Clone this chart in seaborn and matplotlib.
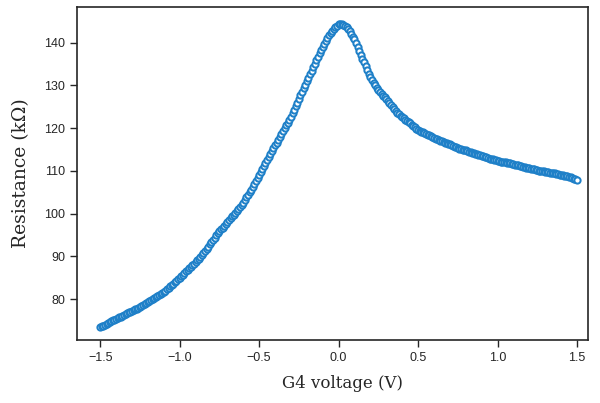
import numpy as np
import pandas as pd
import matplotlib
matplotlib.use("Agg")
import matplotlib.pyplot as plt
import seaborn as sns

# gate sweep, -1.5 V .. 1.5 V in 10 mV steps
voltage = np.round(np.arange(-1.5, 1.5001, 0.01), 2)

# resistance in kOhm
resistance = [
    73.4, 73.6, 73.8, 74.0, 74.2, 74.4, 74.6, 74.8, 75.0, 75.2,
    75.4, 75.55, 75.7, 75.9, 76.1, 76.3, 76.5, 76.7, 76.9, 77.05,
    77.2, 77.4, 77.6, 77.8, 78.0, 78.2, 78.4, 78.6, 78.8, 79.05,
    79.3, 79.5, 79.7, 79.95, 80.2, 80.45, 80.7, 80.9, 81.1, 81.35,
    81.6, 81.95, 82.3, 82.65, 83.0, 83.3, 83.6, 83.95, 84.3, 84.65,
    85.0, 85.35, 85.7, 86.1, 86.5, 86.85, 87.2, 87.55, 87.9, 88.25,
    88.6, 89.05, 89.5, 89.95, 90.4, 90.85, 91.3, 91.8, 92.3, 92.8,
    93.3, 93.85, 94.4, 94.9, 95.4, 95.85, 96.3, 96.7, 97.1, 97.55,
    98.0, 98.45, 98.9, 99.35, 99.8, 100.25, 100.7, 101.15, 101.6, 102.1,
    102.6, 103.2, 103.8, 104.4, 105.0, 105.65, 106.3, 106.95, 107.6, 108.3,
    109.0, 109.7, 110.4, 111.1, 111.8, 112.5, 113.2, 113.9, 114.6, 115.3,
    116.0, 116.65, 117.3, 118.0, 118.7, 119.35, 120.0, 120.65, 121.3, 122.0,
    122.7, 123.5, 124.3, 125.15, 126.0, 126.85, 127.7, 128.5, 129.3, 130.15,
    131.0, 131.8, 132.6, 133.45, 134.3, 135.1, 135.9, 136.7, 137.5, 138.25,
    139.0, 139.7, 140.4, 141.05, 141.7, 142.25, 142.8, 143.25, 143.7, 144.0,
    144.3, 144.35, 144.4, 144.2, 144.0, 143.6, 143.2, 142.65, 142.1, 141.45,
    140.8, 139.95, 139.1, 138.15, 137.2, 136.3, 135.4, 134.5, 133.6, 132.8,
    132.0, 131.3, 130.6, 130.0, 129.4, 128.9, 128.4, 128.0, 127.6, 127.2,
    126.8, 126.35, 125.9, 125.4, 124.9, 124.45, 124.0, 123.65, 123.3, 122.95,
    122.6, 122.3, 122.0, 121.7, 121.4, 121.1, 120.8, 120.5, 120.2, 119.9,
    119.6, 119.4, 119.2, 119.0, 118.8, 118.65, 118.5, 118.3, 118.1, 117.9,
    117.7, 117.55, 117.4, 117.25, 117.1, 116.95, 116.8, 116.65, 116.5, 116.35,
    116.2, 116.0, 115.8, 115.65, 115.5, 115.35, 115.2, 115.1, 115.0, 114.9,
    114.8, 114.65, 114.5, 114.35, 114.2, 114.1, 114.0, 113.9, 113.8, 113.65,
    113.5, 113.4, 113.3, 113.15, 113.0, 112.9, 112.8, 112.7, 112.6, 112.5,
    112.4, 112.3, 112.2, 112.15, 112.1, 112.0, 111.9, 111.85, 111.8, 111.7,
    111.6, 111.5, 111.4, 111.3, 111.2, 111.1, 111.0, 110.9, 110.8, 110.7,
    110.6, 110.5, 110.4, 110.35, 110.3, 110.2, 110.1, 110.05, 110.0, 109.9,
    109.8, 109.75, 109.7, 109.6, 109.5, 109.45, 109.4, 109.3, 109.2, 109.15,
    109.1, 109.0, 108.9, 108.8, 108.7, 108.6, 108.5, 108.35, 108.2, 108.05,
    107.9,
]

df = pd.DataFrame({"V": voltage, "R": resistance})

sns.set_style("ticks")
plt.rcParams["font.family"] = ["Liberation Sans", "DejaVu Sans"]

fig = plt.figure(figsize=(6, 4.03), dpi=100)
ax = fig.add_axes([0.128, 0.156, 0.852, 0.827])

sns.scatterplot(data=df, x="V", y="R", ax=ax, marker="o", s=20,
                facecolor="white", edgecolor="#1f80c8", linewidth=1.45)

ax.set_xlim(-1.647, 1.569)
ax.set_ylim(70.4, 148.4)
ax.set_xticks([-1.5, -1.0, -0.5, 0.0, 0.5, 1.0, 1.5])
ax.set_yticks([80, 90, 100, 110, 120, 130, 140])

ax.set_xlabel("G4 voltage (V)", family="DejaVu Serif", size=12, labelpad=6)
ax.xaxis.set_label_coords(0.519, -0.105)
ax.set_ylabel("Resistance (k\u03a9)", family="DejaVu Serif", size=13.5, labelpad=10)

ax.tick_params(axis="both", labelsize=9, length=5, width=1.0,
               colors="#262626", direction="out")
for sp in ax.spines.values():
    sp.set_linewidth(1.2)
    sp.set_color("#262626")

fig.savefig("out.png", dpi=100)
